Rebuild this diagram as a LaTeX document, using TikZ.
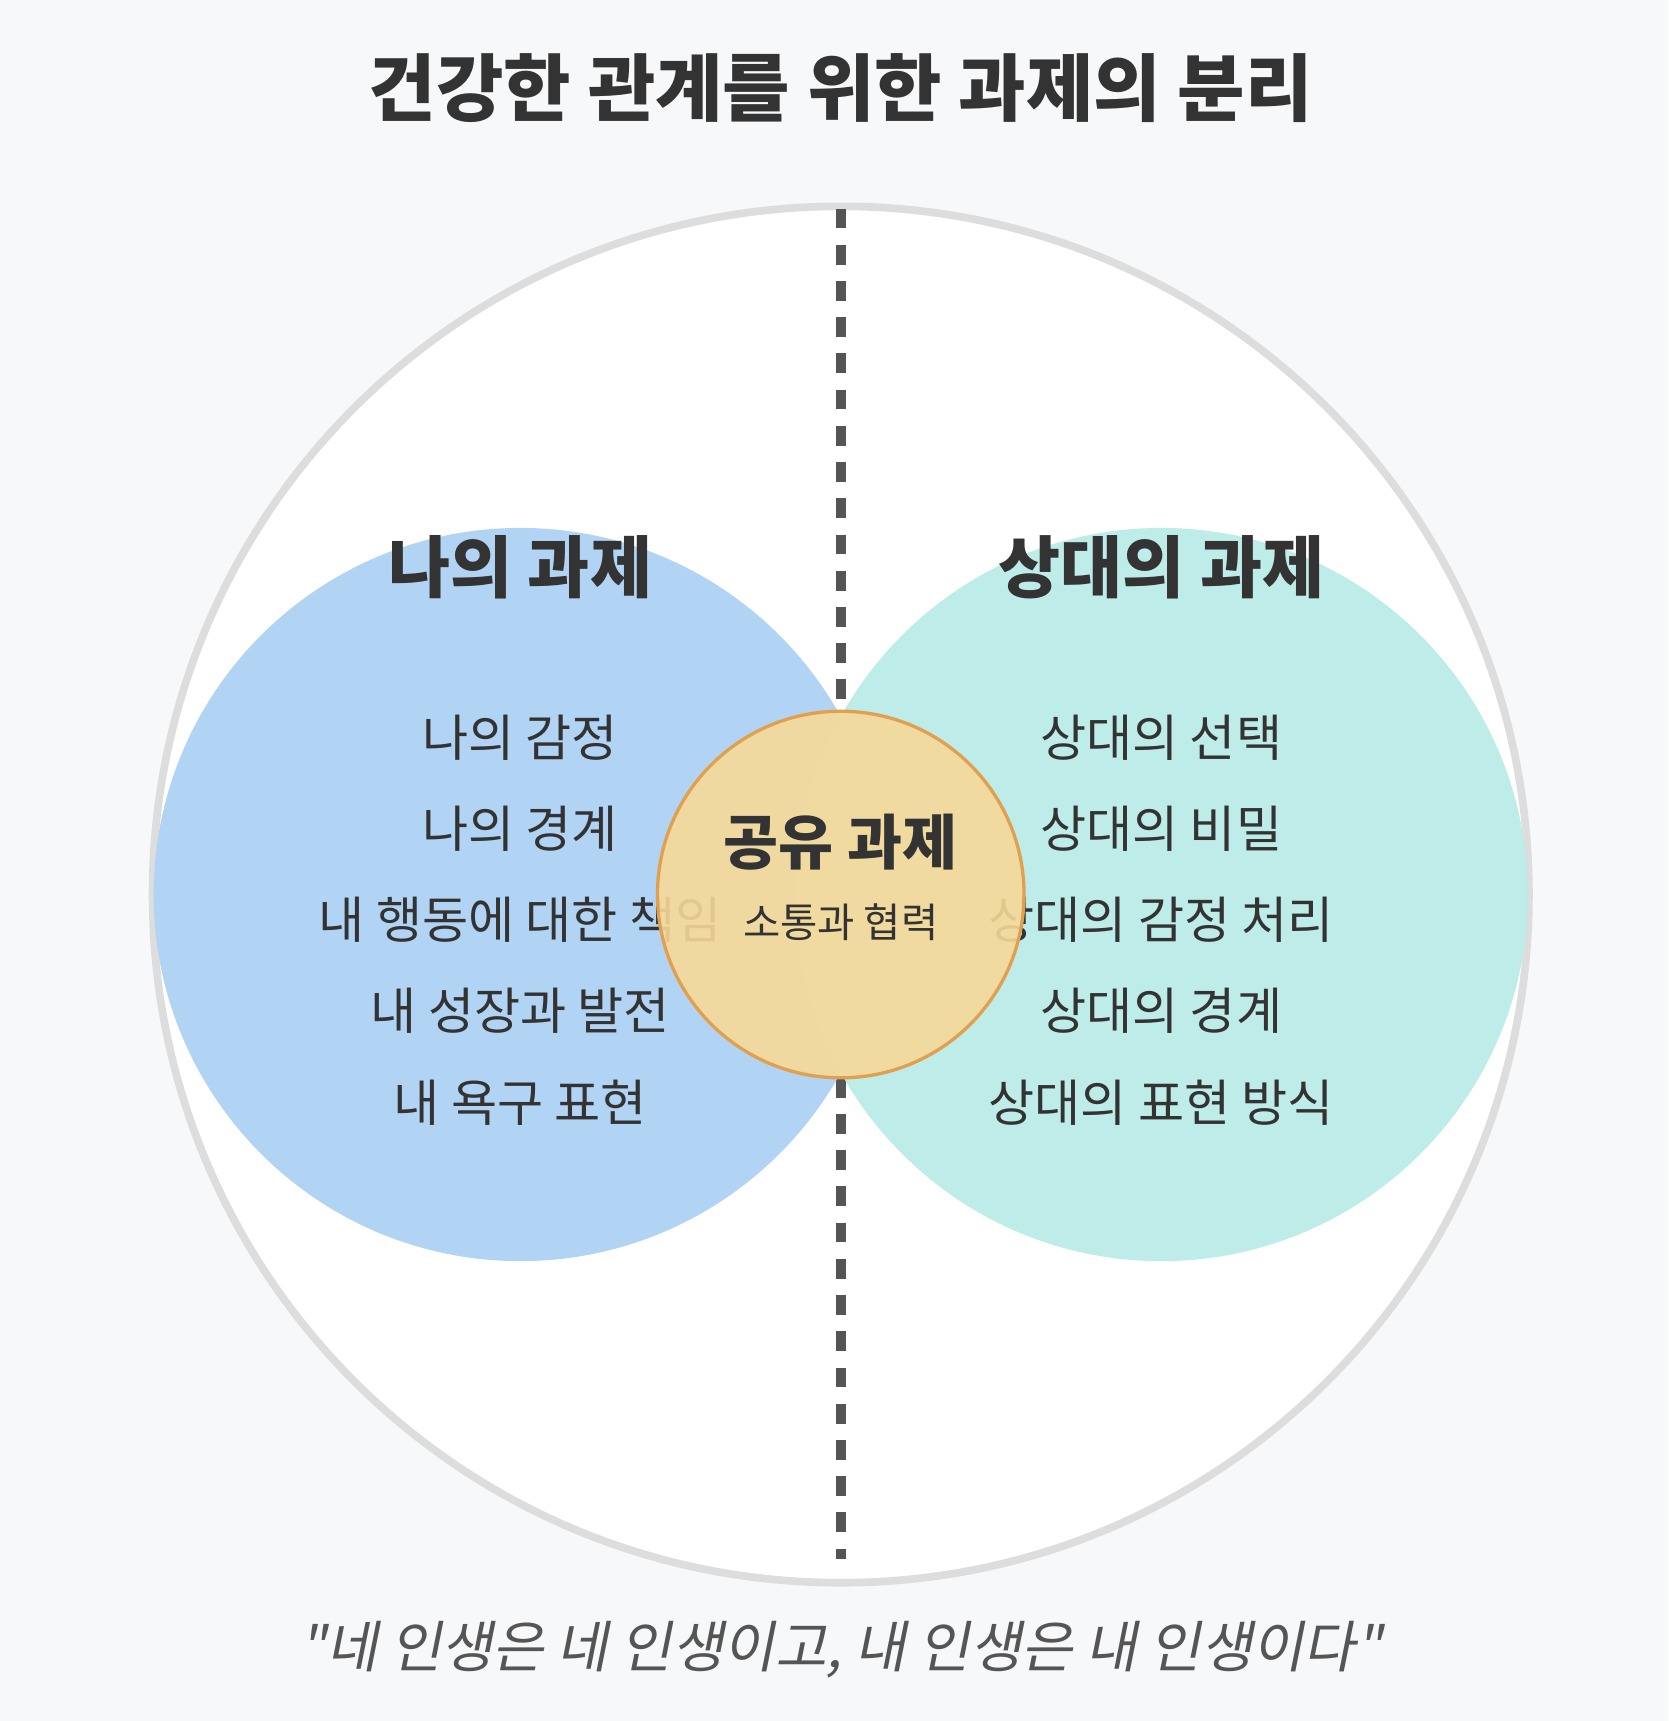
\documentclass[tikz,border=0pt]{standalone}
\usepackage{fontspec}
\setmainfont{Noto Sans CJK KR}
\newfontfamily\krbold{Noto Sans CJK KR}[FakeBold=0]
\newfontfamily\krslant{Noto Sans CJK KR}[FakeSlant=0.2]
\definecolor{bgcol}{HTML}{F7F8FA}
\definecolor{ringcol}{HTML}{DDDDDD}
\definecolor{linecol}{HTML}{555555}
\definecolor{mecol}{HTML}{B2D4F4}
\definecolor{youcol}{HTML}{BBECE8}
\definecolor{sharecol}{HTML}{F7D998}
\definecolor{sharedge}{HTML}{E0A050}
\definecolor{txtcol}{HTML}{333333}
\begin{document}
\begin{tikzpicture}[x=0.02cm,y=-0.02cm]
    \tikzset{heading/.style={font=\fontsize{35}{40}\selectfont\bfseries, text=txtcol},
             item/.style={font=\fontsize{26}{30}\selectfont, text=txtcol}}
    \fill [bgcol] (0,0) rectangle (1520,1568);
    \useasboundingbox (0,0) rectangle (1520,1568);
    % outer ring and divider
    \draw [ringcol, line width=7*0.02cm, fill=white] (766,815) circle (627);
    \coordinate (top) at (766,190);
    \coordinate (bottom) at (766,1420);
    \draw [linecol, line width=9*0.02cm, dash pattern=on 18*0.02cm off 15*0.02cm] (top) -- (bottom);
    % two task circles
    \fill [mecol] (474,815) circle (334);
    \fill [youcol, opacity=0.95] (1058,815) circle (334);
    \node [heading] (mehead) at (474,517) {나의 과제};
    \node [heading] (youhead) at (1058,517) {상대의 과제};
    \node [item] (m1) at (474,672) {나의 감정};
    \node [item] (m2) at (474,755) {나의 경계};
    \node [item] (m3) at (474,838) {내 행동에 대한 책임};
    \node [item] (m4) at (474,921) {내 성장과 발전};
    \node [item] (m5) at (474,1005) {내 욕구 표현};
    \node [item] (y1) at (1058,672) {상대의 선택};
    \node [item] (y2) at (1058,755) {상대의 비밀};
    \node [item] (y3) at (1058,838) {상대의 감정 처리};
    \node [item] (y4) at (1058,921) {상대의 경계};
    \node [item] (y5) at (1058,1005) {상대의 표현 방식};
    % shared part
    \draw [sharedge, line width=3*0.02cm, fill=sharecol, fill opacity=0.9] (766,815) circle (167);
    \node [font=\fontsize{31}{36}\selectfont\bfseries, text=txtcol] (sharehead) at (766,767) {공유 과제};
    \node [font=\fontsize{21}{25}\selectfont, text=txtcol] (shareitem) at (766,840) {소통과 협력};
    % title and quote
    \node [font=\fontsize{38}{44}\selectfont\bfseries, text=txtcol] (title) at (766,80) {건강한 관계를 위한 과제의 분리};
    \node [font=\fontsize{29}{34}\selectfont\krslant, text=linecol] (quote) at (766,1503) {"네 인생은 네 인생이고, 내 인생은 내 인생이다"};
\end{tikzpicture}
\end{document}
